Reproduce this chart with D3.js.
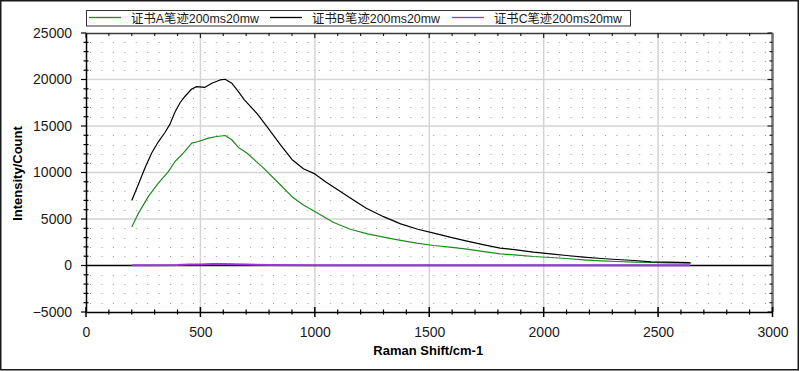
<!DOCTYPE html>
<html>
<head>
<meta charset="utf-8">
<script src="https://cdn.jsdelivr.net/npm/d3@7"></script>
<style>
  html, body { margin: 0; padding: 0; background: #fff; }
  svg { display: block; }
  text { font-family: "Liberation Sans", Arial, "Noto Sans CJK SC", sans-serif; }
</style>
</head>
<body>
<svg id="chart" width="800" height="371"></svg>
<script>
// ---- data ----
const seriesNames = ["证书A笔迹200ms20mw", "证书B笔迹200ms20mw", "证书C笔迹200ms20mw"];
const seriesColors = ["#1e8a1e", "#000000", "#a030e0"];

const aX = [200, 229, 272, 316, 360, 389, 425, 462, 491, 535, 571, 608, 637, 666, 703, 776, 849, 900, 950, 1000, 1080, 1155, 1230, 1300, 1375, 1445, 1520, 1590, 1665, 1740, 1810, 1885, 1955, 2030, 2100, 2175, 2250, 2320, 2395, 2470, 2540, 2645];
const aY = [4150, 5610, 7400, 8850, 10090, 11180, 12080, 13160, 13330, 13700, 13870, 13980, 13520, 12700, 12100, 10470, 8680, 7400, 6500, 5800, 4650, 3900, 3400, 3050, 2700, 2410, 2150, 1980, 1760, 1500, 1260, 1120, 970, 860, 750, 610, 505, 430, 365, 320, 290, 260];

const bX = [200, 230, 258, 287, 316, 345, 367, 389, 411, 433, 462, 484, 520, 550, 586, 608, 637, 666, 692, 745, 790, 850, 900, 950, 1000, 1050, 1100, 1155, 1225, 1300, 1375, 1450, 1520, 1590, 1665, 1740, 1810, 1880, 1955, 2030, 2100, 2175, 2250, 2320, 2395, 2470, 2540, 2640];
const bY = [7000, 8800, 10500, 12100, 13300, 14300, 15200, 16500, 17500, 18200, 18980, 19230, 19160, 19600, 19950, 20030, 19600, 18700, 17800, 16400, 14950, 12980, 11400, 10400, 9850, 8950, 8150, 7250, 6150, 5250, 4480, 3900, 3480, 3050, 2620, 2220, 1870, 1690, 1440, 1260, 1075, 900, 750, 645, 540, 400, 365, 300];

const cX = [200, 300, 400, 450, 500, 550, 600, 650, 700, 800, 1000, 1500, 2000, 2640];
const cY = [30, 40, 60, 120, 110, 150, 170, 140, 100, 60, 40, 30, 20, 20];

const xTicks = [0, 500, 1000, 1500, 2000, 2500, 3000];
const yTicks = [-5000, 0, 5000, 10000, 15000, 20000, 25000];
const xLabel = "Raman Shift/cm-1";
const yLabel = "Intensity/Count";

// ---- layout ----
const svg = d3.select("#chart");
const L = 86, R = 772.5, T = 33, B = 312;
const x = d3.scaleLinear().domain([0, 3000]).range([L, R]);
const y = d3.scaleLinear().domain([-5000, 25000]).range([B, T]);

// outer frame
svg.append("rect").attr("x", 0.75).attr("y", 0.75).attr("width", 797.5).attr("height", 369)
  .attr("fill", "#fff").attr("stroke", "#1a1a1a").attr("stroke-width", 1.5);

const g = svg.append("g");

// minor dotted grid (rows of dots)
const yMinor = d3.range(-5000, 25001, 1000).filter(v => v % 5000 !== 0);
g.selectAll("line.ydot").data(yMinor).join("line")
  .attr("x1", L + 4).attr("x2", R - 2)
  .attr("y1", d => Math.round(y(d)) + 0.5).attr("y2", d => Math.round(y(d)) + 0.5)
  .attr("stroke", "#9a9a9a").attr("stroke-width", 1)
  .attr("stroke-dasharray", "1," + ((x(100) - x(0)) / 2 - 1).toFixed(3));

// major grid
g.selectAll("line.vgrid").data(xTicks.slice(1, -1)).join("line")
  .attr("x1", d => x(d)).attr("x2", d => x(d)).attr("y1", T).attr("y2", B)
  .attr("stroke", "#d4d4d4").attr("stroke-width", 1.5);
g.selectAll("line.hgrid").data(yTicks.slice(1, -1).filter(d => d !== 0)).join("line")
  .attr("x1", L).attr("x2", R).attr("y1", d => y(d)).attr("y2", d => y(d))
  .attr("stroke", "#d4d4d4").attr("stroke-width", 1.5);

// zero line
g.append("line").attr("x1", L).attr("x2", R).attr("y1", y(0)).attr("y2", y(0))
  .attr("stroke", "#000").attr("stroke-width", 1.5);

// top border with ticks
g.append("line").attr("x1", L).attr("x2", R).attr("y1", T + 0.5).attr("y2", T + 0.5)
  .attr("stroke", "#3a3a3a").attr("stroke-width", 1.5);
const xMinorAll = d3.range(0, 3001, 100);
g.selectAll("line.ttick").data(xMinorAll).join("line")
  .attr("x1", d => x(d)).attr("x2", d => x(d))
  .attr("y1", T).attr("y2", d => T + (d % 500 === 0 ? 5 : 3))
  .attr("stroke", "#222").attr("stroke-width", 1.2);

// right border with ticks
g.append("line").attr("x1", R).attr("x2", R).attr("y1", T).attr("y2", B)
  .attr("stroke", "#707070").attr("stroke-width", 2.5);
const yMinorAll = d3.range(-5000, 25001, 1000);
g.selectAll("line.rtick").data(yMinorAll).join("line")
  .attr("x1", R).attr("x2", d => R - (d % 5000 === 0 ? 5 : 3))
  .attr("y1", d => y(d)).attr("y2", d => y(d))
  .attr("stroke", "#222").attr("stroke-width", 1.2);

// series
const line = d3.line().x(d => x(d[0])).y(d => y(d[1]));
const seriesData = [d3.zip(aX, aY), d3.zip(bX, bY), d3.zip(cX, cY)];
const widths = [1.2, 1.2, 2];
seriesData.forEach((s, i) => {
  g.append("path").datum(s).attr("d", line).attr("fill", "none")
    .attr("stroke", seriesColors[i]).attr("stroke-width", widths[i])
    .attr("stroke-linejoin", "round");
});

// axes
const xAxis = d3.axisBottom(x).tickValues(xTicks).tickSize(0).tickFormat(d3.format("d"));
const xa = svg.append("g").attr("transform", `translate(0,${B})`).call(xAxis);
xa.select(".domain").attr("stroke", "#000").attr("stroke-width", 1.5);
xa.selectAll("text").attr("font-size", 14).attr("fill", "#1a1a1a").attr("dy", "1.55em")
  .attr("font-family", "'Liberation Sans', Arial, sans-serif");
svg.append("g").selectAll("line").data(xMinorAll).join("line")
  .attr("x1", d => x(d)).attr("x2", d => x(d))
  .attr("y1", d => B - (d % 500 === 0 ? 5 : 2.5)).attr("y2", d => B + (d % 500 === 0 ? 5 : 2.5))
  .attr("stroke", "#000").attr("stroke-width", d => d % 500 === 0 ? 1.5 : 1.2);

const yAxis = d3.axisLeft(y).tickValues(yTicks).tickSize(0).tickPadding(14).tickFormat(d3.format("d"));
const ya = svg.append("g").attr("transform", `translate(${L},0)`).call(yAxis);
ya.select(".domain").attr("stroke", "#000").attr("stroke-width", 1.5);
ya.selectAll("text").attr("font-size", 14).attr("fill", "#1a1a1a")
  .attr("font-family", "'Liberation Sans', Arial, sans-serif");
svg.append("g").selectAll("line").data(yMinorAll).join("line")
  .attr("x1", d => d % 5000 === 0 ? L - 5 : L - 2.5).attr("x2", d => d % 5000 === 0 ? L : L + 2.5)
  .attr("y1", d => y(d)).attr("y2", d => y(d))
  .attr("stroke", "#000").attr("stroke-width", 1.2);

// axis titles
svg.append("text").attr("x", (L + R) / 2 - 1).attr("y", 355).attr("text-anchor", "middle")
  .attr("font-size", 13).attr("font-weight", "bold").attr("fill", "#000").text(xLabel);
svg.append("text").attr("transform", `translate(22,${(T + B) / 2 + 1}) rotate(-90)`)
  .attr("text-anchor", "middle").attr("font-size", 13).attr("font-weight", "bold")
  .attr("fill", "#000").text(yLabel);

// legend
const lg = svg.append("g");
lg.append("rect").attr("x", 86.5).attr("y", 10.5).attr("width", 544).attr("height", 15.5)
  .attr("fill", "#fff").attr("stroke", "#333").attr("stroke-width", 1);
const legX = [89, 270, 452];
seriesNames.forEach((n, i) => {
  lg.append("line").attr("x1", legX[i]).attr("x2", legX[i] + 32).attr("y1", 17.5).attr("y2", 17.5)
    .attr("stroke", seriesColors[i]).attr("stroke-width", 1.3);
  lg.append("text").attr("x", legX[i] + 42).attr("y", 22.5).attr("font-size", 12.5)
    .attr("fill", "#1a1a1a").attr("textLength", 128).attr("lengthAdjust", "spacingAndGlyphs")
    .attr("font-family", "'Liberation Sans', Arial, 'Noto Sans CJK SC', sans-serif").text(n);
});
</script>
</body>
</html>
